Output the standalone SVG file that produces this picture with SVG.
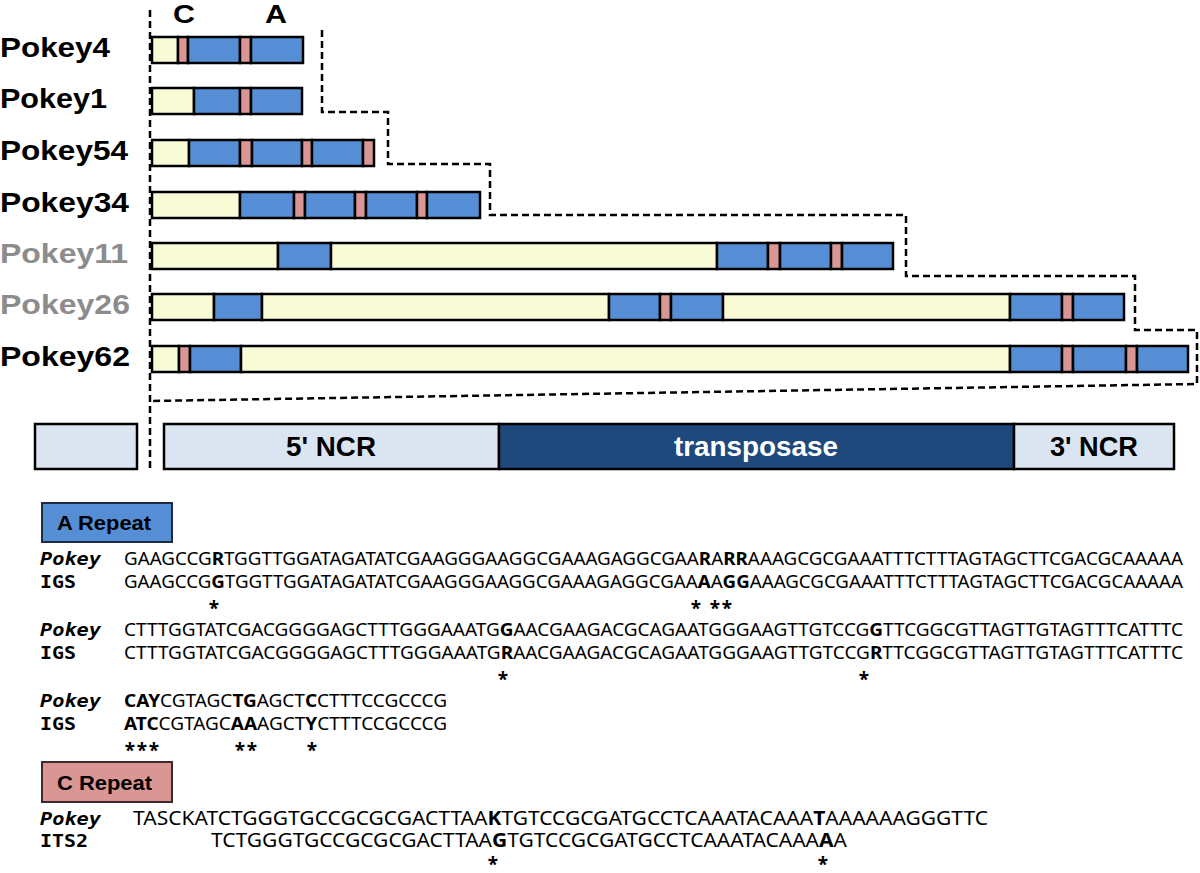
<svg xmlns="http://www.w3.org/2000/svg" width="1200" height="873" viewBox="0 0 1200 873">
<style>
.y{fill:#f9fbd7;stroke:#000;stroke-width:2.5}
.b{fill:#558ed5;stroke:#000;stroke-width:2.5}
.p{fill:#d99694;stroke:#000;stroke-width:2.5}
.lbl{font-family:"Liberation Sans",Arial,sans-serif;font-weight:bold;font-size:28px;fill:#000}
.gray{fill:#8c8c8c}
.hd{font-family:"Liberation Sans",Arial,sans-serif;font-weight:bold;font-size:25px;text-anchor:middle}
.gen{fill:#dbe5f1;stroke:#000;stroke-width:2.5}
.tp{fill:#1f497d;stroke:#000;stroke-width:2.5}
.gt{font-family:"Liberation Sans",Arial,sans-serif;font-weight:bold;font-size:27px}
.leg{font-family:"Liberation Sans",Arial,sans-serif;font-weight:bold;font-size:21px;fill:#000}
.seq{font-family:"Noto Sans","Open Sans",sans-serif;font-size:18px;fill:#000}
.seqc{font-family:"Noto Sans","Open Sans",sans-serif;font-size:19px;fill:#000}
.bd{font-weight:bold;fill:#000}
.nm{font-family:"DejaVu Sans Mono",monospace;font-weight:bold;font-size:18px;fill:#000}
.it{font-style:italic}
.st{font-family:"Noto Sans",sans-serif;font-weight:bold;font-size:19px;text-anchor:middle;fill:#000}
.dash{fill:none;stroke:#000;stroke-width:2.5;stroke-dasharray:7 4}
</style>

<g id="column-headers">
<text class="hd" x="184" y="23" textLength="22" lengthAdjust="spacingAndGlyphs">C</text>
<text class="hd" x="276" y="23" textLength="22" lengthAdjust="spacingAndGlyphs">A</text>
</g>

<g id="Pokey4">
<text class="lbl" x="0" y="57" textLength="110" lengthAdjust="spacingAndGlyphs">Pokey4</text>
<rect class="y" x="152" y="37" width="26" height="26"/>
<rect class="p" x="178" y="37" width="10" height="26"/>
<rect class="b" x="188" y="37" width="52" height="26"/>
<rect class="p" x="240" y="37" width="11" height="26"/>
<rect class="b" x="251" y="37" width="52" height="26"/>
</g>

<g id="Pokey1">
<text class="lbl" x="0" y="108" textLength="107" lengthAdjust="spacingAndGlyphs">Pokey1</text>
<rect class="y" x="152" y="88" width="42" height="26"/>
<rect class="b" x="194" y="88" width="46" height="26"/>
<rect class="p" x="240" y="88" width="11" height="26"/>
<rect class="b" x="251" y="88" width="51" height="26"/>
</g>

<g id="Pokey54">
<text class="lbl" x="0" y="160" textLength="128" lengthAdjust="spacingAndGlyphs">Pokey54</text>
<rect class="y" x="152" y="140" width="37" height="26"/>
<rect class="b" x="189" y="140" width="51" height="26"/>
<rect class="p" x="240" y="140" width="12" height="26"/>
<rect class="b" x="252" y="140" width="50" height="26"/>
<rect class="p" x="302" y="140" width="10" height="26"/>
<rect class="b" x="312" y="140" width="51" height="26"/>
<rect class="p" x="363" y="140" width="11" height="26"/>
</g>

<g id="Pokey34">
<text class="lbl" x="0" y="212" textLength="129" lengthAdjust="spacingAndGlyphs">Pokey34</text>
<rect class="y" x="152" y="192" width="88" height="26"/>
<rect class="b" x="240" y="192" width="54" height="26"/>
<rect class="p" x="294" y="192" width="11" height="26"/>
<rect class="b" x="305" y="192" width="50" height="26"/>
<rect class="p" x="355" y="192" width="11" height="26"/>
<rect class="b" x="366" y="192" width="51" height="26"/>
<rect class="p" x="417" y="192" width="10" height="26"/>
<rect class="b" x="427" y="192" width="53" height="26"/>
</g>

<g id="Pokey11">
<text class="lbl gray" x="0" y="263" textLength="128" lengthAdjust="spacingAndGlyphs">Pokey11</text>
<rect class="y" x="152" y="243" width="126" height="26"/>
<rect class="b" x="278" y="243" width="53" height="26"/>
<rect class="y" x="331" y="243" width="386" height="26"/>
<rect class="b" x="717" y="243" width="51" height="26"/>
<rect class="p" x="768" y="243" width="12" height="26"/>
<rect class="b" x="780" y="243" width="51" height="26"/>
<rect class="p" x="831" y="243" width="11" height="26"/>
<rect class="b" x="842" y="243" width="51" height="26"/>
</g>

<g id="Pokey26">
<text class="lbl gray" x="0" y="314" textLength="130" lengthAdjust="spacingAndGlyphs">Pokey26</text>
<rect class="y" x="152" y="294" width="62" height="26"/>
<rect class="b" x="214" y="294" width="48" height="26"/>
<rect class="y" x="262" y="294" width="347" height="26"/>
<rect class="b" x="609" y="294" width="51" height="26"/>
<rect class="p" x="660" y="294" width="11" height="26"/>
<rect class="b" x="671" y="294" width="52" height="26"/>
<rect class="y" x="723" y="294" width="287" height="26"/>
<rect class="b" x="1010" y="294" width="52" height="26"/>
<rect class="p" x="1062" y="294" width="11" height="26"/>
<rect class="b" x="1073" y="294" width="51" height="26"/>
</g>

<g id="Pokey62">
<text class="lbl" x="0" y="366" textLength="130" lengthAdjust="spacingAndGlyphs">Pokey62</text>
<rect class="y" x="152" y="346" width="27" height="26"/>
<rect class="p" x="179" y="346" width="11" height="26"/>
<rect class="b" x="190" y="346" width="51" height="26"/>
<rect class="y" x="241" y="346" width="769" height="26"/>
<rect class="b" x="1010" y="346" width="52" height="26"/>
<rect class="p" x="1062" y="346" width="11" height="26"/>
<rect class="b" x="1073" y="346" width="53" height="26"/>
<rect class="p" x="1126" y="346" width="11" height="26"/>
<rect class="b" x="1137" y="346" width="51" height="26"/>
</g>

<g id="connectors">
<line class="dash" x1="150" y1="10" x2="150" y2="472"/>
<path class="dash" d="M322,30 V112 H388 V164 H490 V215 H906 V276 H1135 V330 H1197 V384 L150,401"/>
</g>

<g id="genome-left">
<rect class="gen" x="35" y="424" width="102" height="45"/>
</g>
<g id="genome">
<rect class="gen" x="164" y="424" width="335" height="45"/>
<rect class="tp" x="499" y="424" width="515" height="45"/>
<rect class="gen" x="1014" y="424" width="160" height="45"/>
<text class="gt" x="331" y="456" text-anchor="middle" textLength="90" lengthAdjust="spacingAndGlyphs">5' NCR</text>
<text class="gt" x="756" y="456" text-anchor="middle" fill="#fff" textLength="164" lengthAdjust="spacingAndGlyphs">transposase</text>
<text class="gt" x="1094" y="456" text-anchor="middle" textLength="88" lengthAdjust="spacingAndGlyphs">3' NCR</text>
</g>

<g id="A-repeat">
<rect x="42" y="503" width="130" height="39" fill="#558ed5" stroke="#1e2a40" stroke-width="2"/>
<text class="leg" x="57" y="530" textLength="94" lengthAdjust="spacingAndGlyphs">A Repeat</text>

<text class="nm it" x="40" y="565" textLength="61" lengthAdjust="spacingAndGlyphs">Pokey</text>
<text class="nm" x="40" y="588" textLength="36" lengthAdjust="spacingAndGlyphs">IGS</text>
<text class="seq" x="124" y="565" textLength="1059" lengthAdjust="spacingAndGlyphs">GAAGCCG<tspan class="bd">R</tspan>TGGTTGGATAGATATCGAAGGGAAGGCGAAAGAGGCGAA<tspan class="bd">R</tspan>A<tspan class="bd">RR</tspan>AAAGCGCGAAATTTCTTTAGTAGCTTCGACGCAAAAA</text>
<text class="seq" x="124" y="588" textLength="1059" lengthAdjust="spacingAndGlyphs">GAAGCCG<tspan class="bd">G</tspan>TGGTTGGATAGATATCGAAGGGAAGGCGAAAGAGGCGAA<tspan class="bd">A</tspan>A<tspan class="bd">GG</tspan>AAAGCGCGAAATTTCTTTAGTAGCTTCGACGCAAAAA</text>
<text class="st" x="214" y="615">*</text>
<text class="st" x="696" y="615">*</text>
<text class="st" x="715" y="615">*</text>
<text class="st" x="727" y="615">*</text>

<text class="nm it" x="40" y="636" textLength="61" lengthAdjust="spacingAndGlyphs">Pokey</text>
<text class="nm" x="40" y="659" textLength="36" lengthAdjust="spacingAndGlyphs">IGS</text>
<text class="seq" x="124" y="636" textLength="1059" lengthAdjust="spacingAndGlyphs">CTTTGGTATCGACGGGGAGCTTTGGGAAATG<tspan class="bd">G</tspan>AACGAAGACGCAGAATGGGAAGTTGTCCG<tspan class="bd">G</tspan>TTCGGCGTTAGTTGTAGTTTCATTTC</text>
<text class="seq" x="124" y="659" textLength="1059" lengthAdjust="spacingAndGlyphs">CTTTGGTATCGACGGGGAGCTTTGGGAAATG<tspan class="bd">R</tspan>AACGAAGACGCAGAATGGGAAGTTGTCCG<tspan class="bd">R</tspan>TTCGGCGTTAGTTGTAGTTTCATTTC</text>
<text class="st" x="503" y="686">*</text>
<text class="st" x="864" y="686">*</text>

<text class="nm it" x="40" y="707" textLength="61" lengthAdjust="spacingAndGlyphs">Pokey</text>
<text class="nm" x="40" y="730" textLength="36" lengthAdjust="spacingAndGlyphs">IGS</text>
<text class="seq" x="124" y="707" textLength="323" lengthAdjust="spacingAndGlyphs"><tspan class="bd">CAY</tspan>CGTAGC<tspan class="bd">TG</tspan>AGCT<tspan class="bd">C</tspan>CTTTCCGCCCG</text>
<text class="seq" x="124" y="730" textLength="323" lengthAdjust="spacingAndGlyphs"><tspan class="bd">ATC</tspan>CGTAGC<tspan class="bd">AA</tspan>AGCT<tspan class="bd">Y</tspan>CTTTCCGCCCG</text>
<text class="st" x="130" y="757">*</text>
<text class="st" x="142" y="757">*</text>
<text class="st" x="154" y="757">*</text>
<text class="st" x="240" y="757">*</text>
<text class="st" x="252" y="757">*</text>
<text class="st" x="312" y="757">*</text>
</g>

<g id="C-repeat">
<rect x="42" y="762" width="130" height="40" fill="#d99694" stroke="#3a2a2a" stroke-width="2"/>
<text class="leg" x="57" y="790" textLength="95" lengthAdjust="spacingAndGlyphs">C Repeat</text>
<text class="nm it" x="40" y="825" textLength="61" lengthAdjust="spacingAndGlyphs">Pokey</text>
<text class="nm" x="40" y="847" textLength="48" lengthAdjust="spacingAndGlyphs">ITS2</text>
<text class="seqc" x="133" y="825" textLength="855" lengthAdjust="spacingAndGlyphs">TASCKATCTGGGTGCCGCGCGACTTAA<tspan class="bd">K</tspan>TGTCCGCGATGCCTCAAATACAAA<tspan class="bd">T</tspan>AAAAAAGGGTTC</text>
<text class="seqc" x="211" y="847" textLength="636" lengthAdjust="spacingAndGlyphs">TCTGGGTGCCGCGCGACTTAA<tspan class="bd">G</tspan>TGTCCGCGATGCCTCAAATACAAA<tspan class="bd">A</tspan>A</text>
<text class="st" x="493" y="871">*</text>
<text class="st" x="823" y="871">*</text>
</g>
</svg>
